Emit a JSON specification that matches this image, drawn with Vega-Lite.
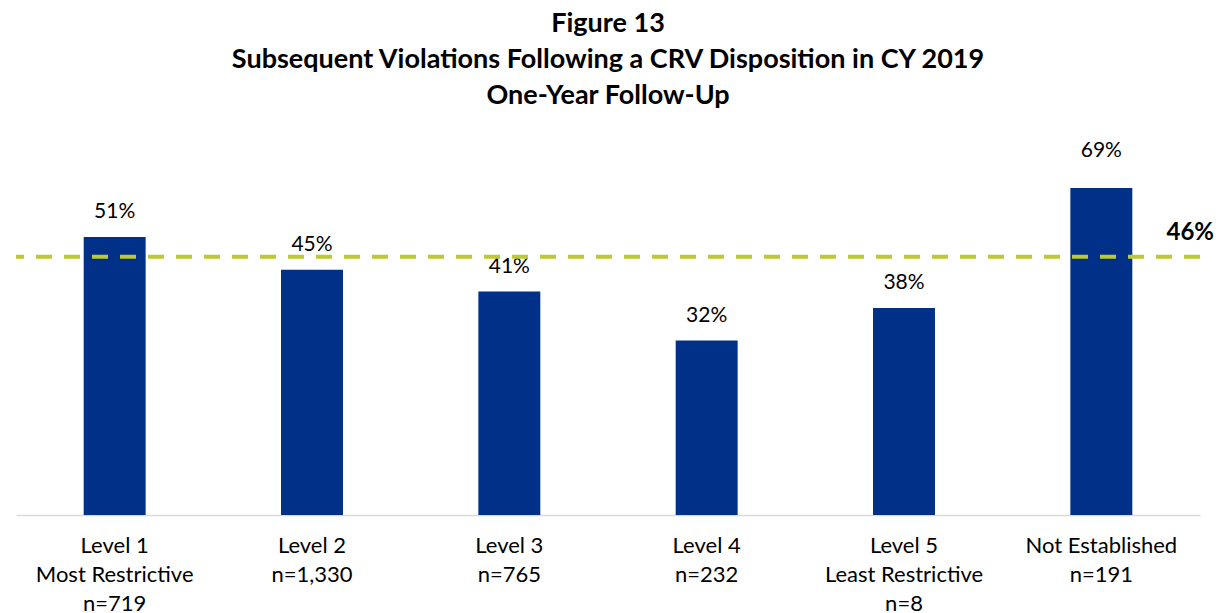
{
  "$schema": "https://vega.github.io/schema/vega-lite/v6.json",
  "width": 1184,
  "height": 327,
  "autosize": {"type": "none"},
  "padding": {"left": 16, "top": 188, "right": 24, "bottom": 98},
  "background": "white",
  "title": {
    "text": ["Figure 13", "Subsequent Violations Following a CRV Disposition in CY 2019", "One-Year Follow-Up"],
    "font": "Lato",
    "fontSize": 27,
    "fontWeight": "bold",
    "lineHeight": 36,
    "color": "black",
    "anchor": "middle",
    "offset": 30
  },
  "datasets": {
    "bars": [
      {"category": "Level 1|Most Restrictive|n=719", "pct": 0.51, "label": "51%"},
      {"category": "Level 2|n=1,330", "pct": 0.45, "label": "45%"},
      {"category": "Level 3|n=765", "pct": 0.41, "label": "41%"},
      {"category": "Level 4|n=232", "pct": 0.32, "label": "32%"},
      {"category": "Level 5|Least Restrictive|n=8", "pct": 0.38, "label": "38%"},
      {"category": "Not Established|n=191", "pct": 0.69, "label": "69%"}
    ],
    "ref": [
      {"pct": 0.474, "label": "46%"}
    ]
  },
  "layer": [
    {
      "data": {"name": "bars"},
      "mark": {"type": "bar", "color": "#003087"},
      "encoding": {
        "x": {
          "field": "category", "type": "nominal", "sort": null,
          "scale": {"paddingInner": 0.686, "paddingOuter": 0.343},
          "axis": {
            "title": null,
            "labelExpr": "split(datum.label, '|')",
            "labelAngle": 0,
            "labelFont": "Lato",
            "labelFontSize": 22,
            "labelLineHeight": 29,
            "labelColor": "black",
            "labelPadding": 20,
            "ticks": false,
            "domainColor": "#D9D9D9",
            "domainWidth": 1.5,
            "grid": false
          }
        },
        "y": {
          "field": "pct", "type": "quantitative",
          "scale": {"domain": [0, 0.6], "clamp": true, "nice": false},
          "axis": null
        }
      }
    },
    {
      "data": {"name": "bars"},
      "transform": [{"filter": "datum.pct <= 0.6"}],
      "mark": {"type": "text", "font": "Lato", "fontSize": 21, "color": "black", "baseline": "middle", "dy": -25},
      "encoding": {
        "x": {"field": "category", "type": "nominal", "sort": null},
        "y": {"field": "pct", "type": "quantitative"},
        "text": {"field": "label"}
      }
    },
    {
      "data": {"name": "bars"},
      "transform": [{"filter": "datum.pct > 0.6"}],
      "mark": {"type": "text", "font": "Lato", "fontSize": 21, "color": "black", "baseline": "middle", "dy": -37},
      "encoding": {
        "x": {"field": "category", "type": "nominal", "sort": null},
        "y": {"field": "pct", "type": "quantitative"},
        "text": {"field": "label"}
      }
    },
    {
      "data": {"name": "ref"},
      "mark": {"type": "rule", "color": "#BCC935", "strokeWidth": 4, "strokeDash": [16, 12]},
      "encoding": {
        "y": {"field": "pct", "type": "quantitative"}
      }
    },
    {
      "data": {"name": "ref"},
      "mark": {"type": "text", "font": "Lato", "fontSize": 24, "fontWeight": "bold", "color": "black", "align": "right", "baseline": "middle", "dx": 14, "dy": -24},
      "encoding": {
        "x": {"value": "width"},
        "y": {"field": "pct", "type": "quantitative"},
        "text": {"field": "label"}
      }
    }
  ],
  "config": {"view": {"stroke": null}}
}
